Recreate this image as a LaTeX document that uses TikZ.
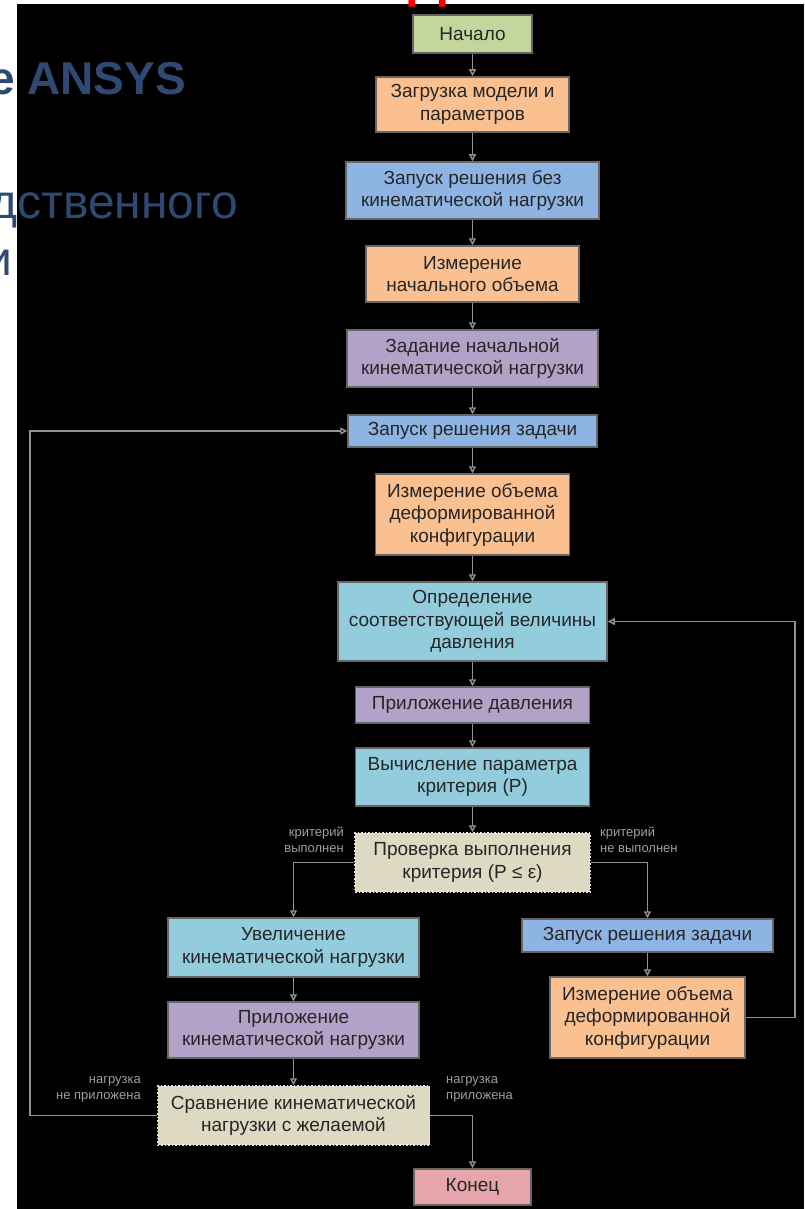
\documentclass[tikz,border=0pt]{standalone}
\usepackage{fontspec}
\setmainfont{Liberation Sans}
\usetikzlibrary{arrows.meta}
\definecolor{zel}{HTML}{C3D69B}
\definecolor{oranj}{HTML}{FAC090}
\definecolor{sin}{HTML}{8EB4E3}
\definecolor{fiol}{HTML}{B3A2C7}
\definecolor{gol}{HTML}{93CDDD}
\definecolor{bej}{HTML}{DDD9C3}
\definecolor{roz}{HTML}{E6A5AB}
\definecolor{tblue}{HTML}{2E4A72}

\begin{document}
\begin{tikzpicture}[x=1pt,y=-1pt,
  blk/.style={draw=black!60,line width=1.5pt,inner sep=0pt,align=center,text=black!85,font=\fontsize{19}{22.5}\selectfont},
  chk/.style={blk,fill=bej,draw=white!80!gray,dotted},
  lbl/.style={text=gray!75,inner sep=0pt,font=\fontsize{13}{16}\selectfont},
  ln/.style={draw=gray!85,line width=1.4pt,-{Triangle[open,length=7pt,width=7pt]}}]
\useasboundingbox (0,0) rectangle (804,1209);
\fill[white] (0,0) rectangle (804,1209);
\fill[black] (17,4) rectangle (804,1209);

\node[text=red,font=\fontsize{54}{54}\selectfont\bfseries,anchor=base,inner sep=0pt] (t0) at (428,-3) {Д};
\node[text=tblue,font=\fontsize{46}{46}\selectfont\bfseries,anchor=base west,inner sep=0pt] (t1) at (-11,95) {е ANSYS};
\node[text=tblue,font=\fontsize{48}{48}\selectfont,anchor=base east,inner sep=0pt] (t2) at (238,218) {дственного};
\node[text=tblue,font=\fontsize{48}{48}\selectfont,anchor=base east,inner sep=0pt] (t3) at (13,275) {и};

\node[blk,fill=zel,minimum width=119,minimum height=38] (start) at (472.5,34) {Начало};
\node[blk,fill=oranj,minimum width=193,minimum height=55] (load) at (472.5,104.5) {Загрузка модели и\\параметров};
\node[blk,fill=sin,minimum width=253,minimum height=57] (run0) at (472.5,190.5) {Запуск решения без\\кинематической нагрузки};
\node[blk,fill=oranj,minimum width=213,minimum height=56] (vol0) at (472.5,274) {Измерение\\начального объема};
\node[blk,fill=fiol,minimum width=251,minimum height=57] (kin0) at (472.5,358.5) {Задание начальной\\кинематической нагрузки};
\node[blk,fill=sin,minimum width=249,minimum height=32] (run) at (472.5,431) {Запуск решения задачи};
\node[blk,fill=oranj,minimum width=194,minimum height=81] (vol) at (472.5,514.5) {Измерение объема\\деформированной\\конфигурации};
\node[blk,fill=gol,minimum width=269,minimum height=79] (press) at (472.5,621.5) {Определение\\соответствующей величины\\давления};
\node[blk,fill=fiol,minimum width=234,minimum height=36] (apply) at (472.5,705) {Приложение давления};
\node[blk,fill=gol,minimum width=234,minimum height=58] (crit) at (472.5,777) {Вычисление параметра\\критерия (P)};
\node[chk,minimum width=235,minimum height=59] (check) at (472.5,862.5) {Проверка выполнения\\критерия (P ≤ ε)};

\node[blk,fill=gol,minimum width=251,minimum height=59] (incr) at (293.5,947.5) {Увеличение\\кинематической нагрузки};
\node[blk,fill=fiol,minimum width=251,minimum height=56] (applyk) at (293.5,1030) {Приложение\\кинематической нагрузки};
\node[chk,minimum width=272,minimum height=59] (comp) at (293.5,1115.5) {Сравнение кинематической\\нагрузки с желаемой};
\node[blk,fill=roz,minimum width=117,minimum height=36] (stop) at (472.5,1187) {Конец};

\node[blk,fill=sin,minimum width=251,minimum height=33] (runr) at (647.5,935.5) {Запуск решения задачи};
\node[blk,fill=oranj,minimum width=195,minimum height=81] (volr) at (647.5,1017.5) {Измерение объема\\деформированной\\конфигурации};

\node[lbl,anchor=east,align=right] (ok) at (344,840) {критерий\\выполнен};
\node[lbl,anchor=west,align=left] (nok) at (600,840) {критерий\\не выполнен};
\node[lbl,anchor=east,align=right] (notyet) at (141,1089) {нагрузка\\не приложена};
\node[lbl,anchor=west,align=left] (done) at (446,1089) {нагрузка\\приложена};

\draw[ln] (start) -- (load);
\draw[ln] (load) -- (run0);
\draw[ln] (run0) -- (vol0);
\draw[ln] (vol0) -- (kin0);
\draw[ln] (kin0) -- (run);
\draw[ln] (run) -- (vol);
\draw[ln] (vol) -- (press);
\draw[ln] (press) -- (apply);
\draw[ln] (apply) -- (crit);
\draw[ln] (crit) -- (check);
\draw[ln] (check.west) -| (incr.north);
\draw[ln] (check.east) -| (runr.north);
\draw[ln] (incr) -- (applyk);
\draw[ln] (applyk) -- (comp);
\draw[ln] (runr) -- (volr);
\draw[ln] (comp.east) -| (stop.north);

\coordinate (lb) at (30,1115.5);
\coordinate (rb) at (795,1017.5);
\draw[ln] (comp.west) -- (lb) |- (run.west);
\draw[ln] (volr.east) -- (rb) |- (press.east);
\end{tikzpicture}
\end{document}
